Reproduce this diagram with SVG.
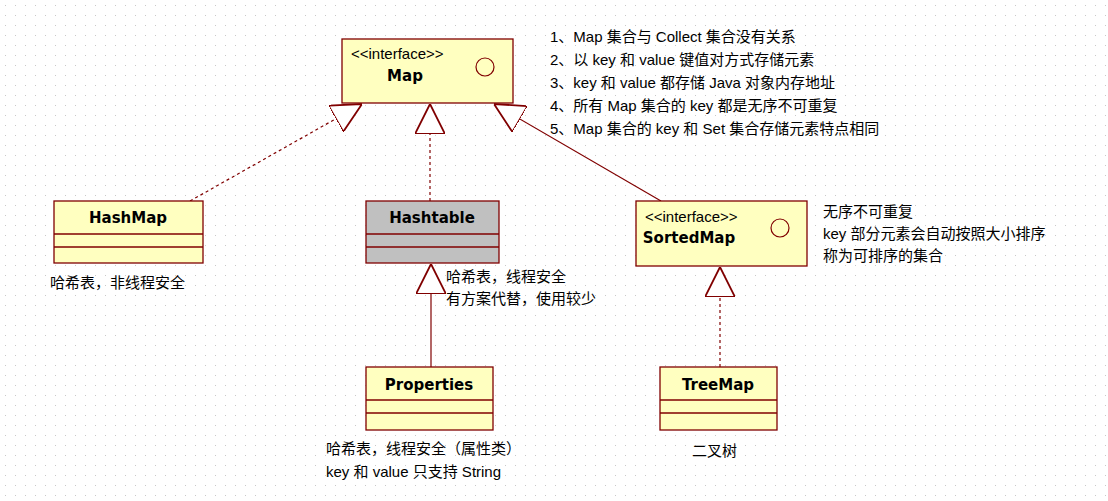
<svg xmlns="http://www.w3.org/2000/svg" width="1108" height="501" viewBox="0 0 1108 501">
<defs>
<pattern id="grid" x="0" y="0" width="10" height="10" patternUnits="userSpaceOnUse"><rect x="5" y="5" width="1" height="1" fill="#c8c8c8"/></pattern>
<marker id="tri" viewBox="0 0 20 20" refX="20" refY="10" markerWidth="30" markerHeight="30" markerUnits="userSpaceOnUse" orient="auto"><path d="M0,0 L20,10 L0,20 Z" fill="#fff" stroke="#800000" stroke-width="1.2"/></marker>
</defs>
<style>
.box{fill:#ffffc0;stroke:#800000;stroke-width:1.3}
.gray{fill:#c0c0c0;stroke:#800000;stroke-width:1.3}
.sep{stroke:#800000;stroke-width:1.3}
.t{font-family:"Liberation Sans","Noto Sans CJK SC",sans-serif;font-size:15px;fill:#000}
.b{font-family:"DejaVu Sans","Noto Sans CJK SC",sans-serif;font-size:15px;font-weight:bold;fill:#000;text-anchor:middle}
.note{font-family:"Liberation Sans","Noto Sans CJK SC",sans-serif;font-size:15px;fill:#000}
.c{fill:none;stroke:#800000;stroke-width:1.2}
.d{stroke-dasharray:3,3}
</style>
<rect width="1108" height="501" fill="#fff"/>
<rect width="1108" height="501" fill="url(#grid)"/>
<g id="connectors">
<line class="c d" x1="190" y1="201" x2="362" y2="104" marker-end="url(#tri)"/>
<line class="c d" x1="430" y1="201" x2="430" y2="104" marker-end="url(#tri)"/>
<line class="c" x1="661" y1="201" x2="494" y2="104" marker-end="url(#tri)"/>
<line class="c" x1="431" y1="367" x2="431" y2="264" marker-end="url(#tri)"/>
<line class="c d" x1="720" y1="367" x2="720" y2="267" marker-end="url(#tri)"/>
</g>
<g id="Map">
<rect class="box" x="342" y="39" width="171" height="64"/>
<text class="t" x="351" y="59">&lt;&lt;interface&gt;&gt;</text>
<text class="b" x="405" y="81">Map</text>
<circle cx="485" cy="67" r="9" fill="none" stroke="#800000" stroke-width="1.2"/>
</g>
<g id="HashMap">
<rect class="box" x="54" y="201" width="149" height="62"/>
<line class="sep" x1="54" y1="234" x2="203" y2="234"/><line class="sep" x1="54" y1="247" x2="203" y2="247"/>
<text class="b" x="128" y="223">HashMap</text>
</g>
<g id="Hashtable">
<rect class="gray" x="366" y="201" width="133" height="62"/>
<line class="sep" x1="366" y1="234" x2="499" y2="234"/><line class="sep" x1="366" y1="247" x2="499" y2="247"/>
<text class="b" x="432" y="223">Hashtable</text>
</g>
<g id="SortedMap">
<rect class="box" x="636" y="201" width="171" height="65"/>
<text class="t" x="645" y="222">&lt;&lt;interface&gt;&gt;</text>
<text class="b" x="689" y="243">SortedMap</text>
<circle cx="780" cy="228" r="9" fill="none" stroke="#800000" stroke-width="1.2"/>
</g>
<g id="Properties">
<rect class="box" x="366" y="367" width="127" height="63"/>
<line class="sep" x1="366" y1="400" x2="493" y2="400"/><line class="sep" x1="366" y1="413" x2="493" y2="413"/>
<text class="b" x="429" y="390">Properties</text>
</g>
<g id="TreeMap">
<rect class="box" x="660" y="367" width="117" height="63"/>
<line class="sep" x1="660" y1="400" x2="777" y2="400"/><line class="sep" x1="660" y1="413" x2="777" y2="413"/>
<text class="b" x="718" y="390">TreeMap</text>
</g>
<g id="notes">
<text class="note" x="550" y="42">1、Map 集合与 Collect 集合没有关系</text>
<text class="note" x="550" y="65">2、以 key 和 value 键值对方式存储元素</text>
<text class="note" x="550" y="88">3、key 和 value 都存储 Java 对象内存地址</text>
<text class="note" x="550" y="111">4、所有 Map 集合的 key 都是无序不可重复</text>
<text class="note" x="550" y="134">5、Map 集合的 key 和 Set 集合存储元素特点相同</text>
<text class="note" x="50" y="288">哈希表，非线程安全</text>
<text class="note" x="446" y="282">哈希表，线程安全</text>
<text class="note" x="446" y="304">有方案代替，使用较少</text>
<text class="note" x="823" y="217">无序不可重复</text>
<text class="note" x="823" y="239">key 部分元素会自动按照大小排序</text>
<text class="note" x="823" y="261">称为可排序的集合</text>
<text class="note" x="326" y="454">哈希表，线程安全（属性类）</text>
<text class="note" x="326" y="477">key 和 value 只支持 String</text>
<text class="note" x="692" y="456">二叉树</text>
</g>
</svg>
